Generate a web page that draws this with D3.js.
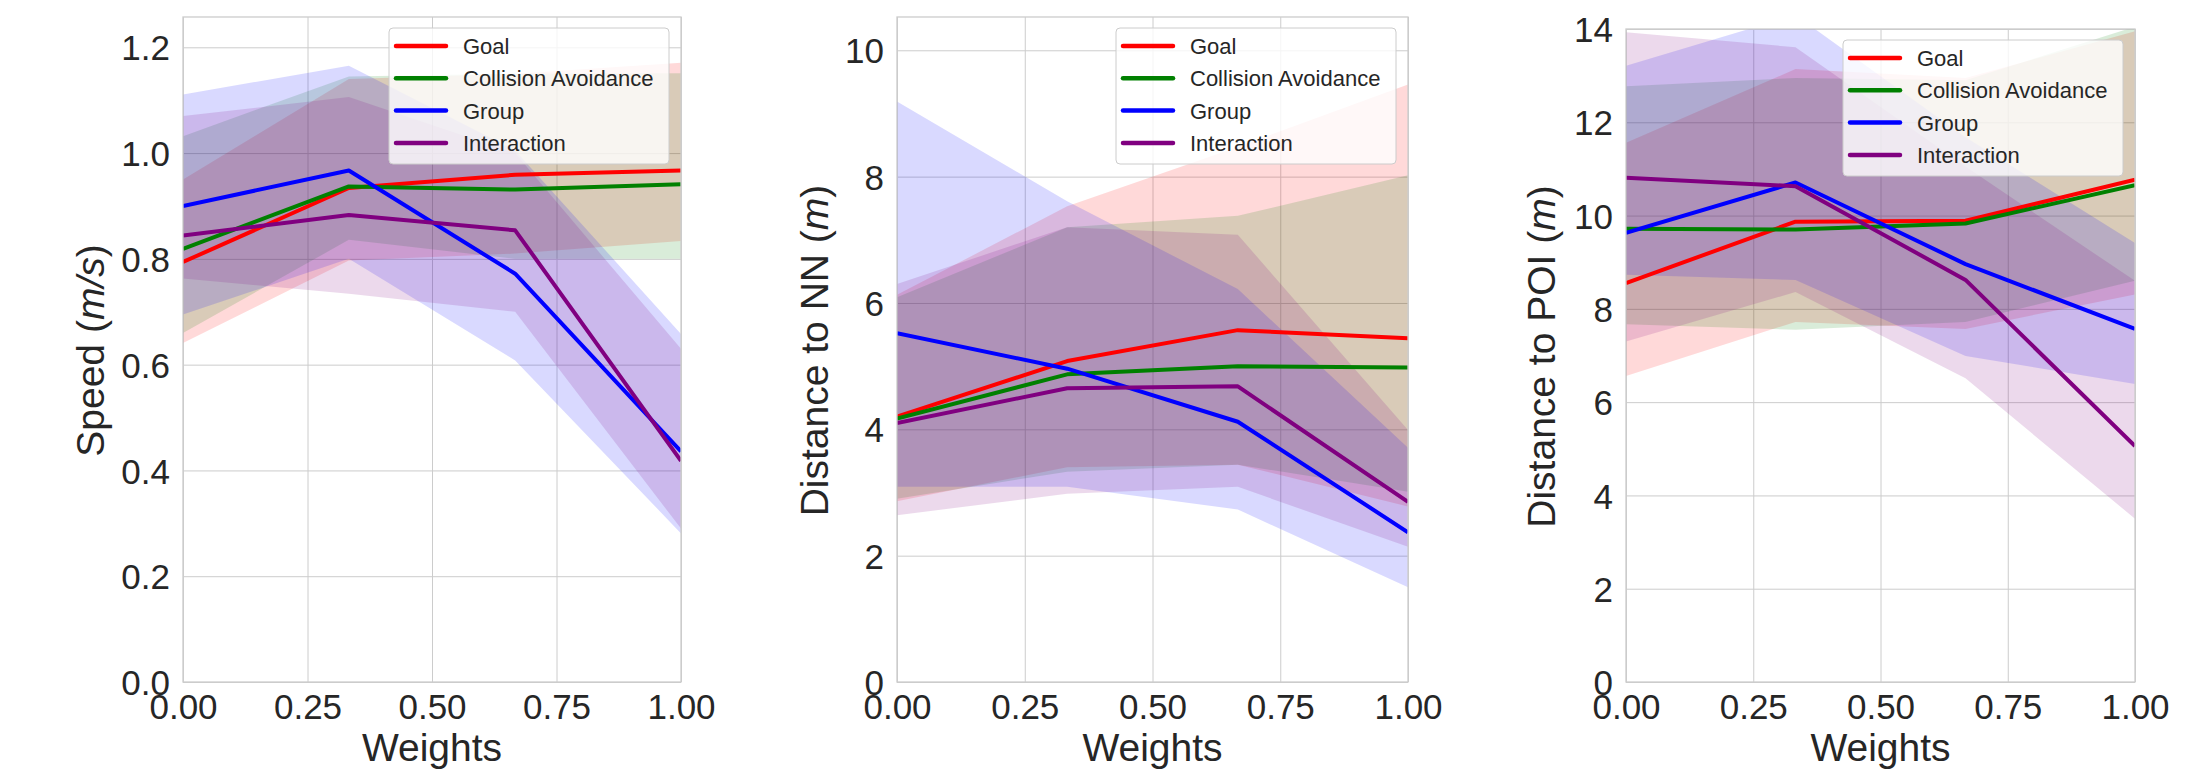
<!DOCTYPE html>
<html>
<head>
<meta charset="utf-8">
<script src="https://cdn.jsdelivr.net/npm/d3@7"></script>
<style>
  html, body { margin: 0; padding: 0; background: #ffffff; }
  svg { display: block; }
  text { font-family: "Liberation Sans", Arial, Helvetica, sans-serif; fill: #262626; }
</style>
</head>
<body>
<svg id="chart" width="2193" height="771"></svg>
<script>
// ---------------- DATA ----------------
const weights = [0, 0.333, 0.667, 1];
const seriesNames = ["Goal", "Collision Avoidance", "Group", "Interaction"];
const xTicks = [0, 0.25, 0.5, 0.75, 1.0];

// Speed (m/s): [Goal, Collision Avoidance, Group, Interaction]
const speedMean = [
  [0.794, 0.934, 0.959, 0.967],
  [0.819, 0.937, 0.931, 0.941],
  [0.900, 0.967, 0.772, 0.436],
  [0.844, 0.883, 0.854, 0.418]
];
const speedLow = [
  [0.641, 0.797, 0.810, 0.834],
  [0.660, 0.836, 0.800, 0.800],
  [0.695, 0.800, 0.608, 0.281],
  [0.763, 0.734, 0.700, 0.290]
];
const speedHigh = [
  [0.950, 1.140, 1.150, 1.171],
  [1.032, 1.145, 1.150, 1.151],
  [1.111, 1.165, 1.005, 0.658],
  [1.070, 1.106, 1.000, 0.630]
];
const speedTicks = [0.0, 0.2, 0.4, 0.6, 0.8, 1.0, 1.2];

// Distance to NN (m)
const nnMean = [
  [4.20, 5.08, 5.57, 5.44],
  [4.17, 4.87, 5.00, 4.98],
  [5.52, 4.96, 4.12, 2.37],
  [4.10, 4.65, 4.68, 2.85]
];
const nnLow = [
  [2.86, 3.40, 3.44, 2.78],
  [2.90, 3.33, 3.44, 3.01],
  [3.09, 3.09, 2.73, 1.50],
  [2.64, 2.98, 3.09, 2.14]
];
const nnHigh = [
  [6.13, 7.53, 8.47, 9.46],
  [6.09, 7.20, 7.38, 8.02],
  [9.19, 7.61, 6.22, 3.71],
  [6.30, 7.20, 7.08, 3.99]
];
const nnTicks = [0, 2, 4, 6, 8, 10];

// Distance to POI (m)
const poiMean = [
  [8.55, 9.87, 9.89, 10.77],
  [9.72, 9.70, 9.83, 10.65],
  [9.63, 10.71, 8.96, 7.57],
  [10.81, 10.63, 8.62, 5.06]
];
const poiLow = [
  [6.56, 7.72, 7.57, 8.31],
  [7.67, 7.55, 7.72, 8.60],
  [8.73, 8.62, 6.99, 6.39],
  [7.30, 8.36, 6.51, 3.50]
];
const poiHigh = [
  [11.56, 13.14, 12.95, 13.95],
  [12.77, 12.95, 12.90, 14.05],
  [13.21, 14.30, 11.68, 9.41],
  [13.93, 13.61, 11.05, 8.60]
];
const poiTicks = [0, 2, 4, 6, 8, 10, 12, 14];

// ---------------- STYLE / LAYOUT ----------------
const colors = ["#ff0000", "#008000", "#0000ff", "#800080"];

const panels = [
  { mean: speedMean, low: speedLow, high: speedHigh, ticks: speedTicks, fmt: d3.format(".1f"),
    ymax: 1.2573, left: 183, right: 681, top: 17, bottom: 682, labelX: 104,
    label: ["Speed (", "m/s", ")"] },
  { mean: nnMean, low: nnLow, high: nnHigh, ticks: nnTicks, fmt: d3.format("d"),
    ymax: 10.527, left: 897, right: 1408, top: 17, bottom: 682, labelX: 828,
    label: ["Distance to NN (", "m", ")"] },
  { mean: poiMean, low: poiLow, high: poiHigh, ticks: poiTicks, fmt: d3.format("d"),
    ymax: 14, left: 1626, right: 2135, top: 29, bottom: 682, labelX: 1555,
    label: ["Distance to POI (", "m", ")"] }
];

const svg = d3.select("#chart");
const gridColor = "#cccccc";

panels.forEach((p, pi) => {
  const x = d3.scaleLinear().domain([0, 1]).range([p.left, p.right]);
  const y = d3.scaleLinear().domain([0, p.ymax]).range([p.bottom, p.top]);
  const g = svg.append("g");

  const clipId = "clip" + pi;
  svg.append("defs").append("clipPath").attr("id", clipId)
    .append("rect").attr("x", p.left).attr("y", p.top)
    .attr("width", p.right - p.left).attr("height", p.bottom - p.top);

  // grid
  const yAxis = d3.axisLeft(y).tickValues(p.ticks).tickSize(-(p.right - p.left)).tickFormat(p.fmt).tickPadding(13);
  const xAxis = d3.axisBottom(x).tickValues(xTicks).tickSize(-(p.bottom - p.top)).tickFormat(d3.format(".2f")).tickPadding(12);

  const gy = g.append("g").attr("transform", `translate(${p.left},0)`).call(yAxis);
  gy.select(".domain").remove();
  gy.selectAll(".tick line").attr("stroke", gridColor).attr("stroke-width", 1);
  gy.selectAll(".tick text").attr("font-size", 35).attr("fill", "#262626")
    .attr("dy", "0.36em");

  const gx = g.append("g").attr("transform", `translate(0,${p.bottom})`).call(xAxis);
  gx.select(".domain").remove();
  gx.selectAll(".tick line").attr("stroke", gridColor).attr("stroke-width", 1);
  gx.selectAll(".tick text").attr("font-size", 35).attr("fill", "#262626")
    .attr("y", 37).attr("dy", 0);

  // bands
  const area = d3.area().x((d, i) => x(weights[i])).y0(d => y(d[0])).y1(d => y(d[1]));
  const gb = g.append("g").attr("clip-path", `url(#${clipId})`);
  seriesNames.forEach((name, si) => {
    const pts = weights.map((w, i) => [p.low[si][i], p.high[si][i]]);
    gb.append("path").datum(pts).attr("d", area)
      .attr("fill", colors[si]).attr("fill-opacity", 0.15).attr("stroke", "none");
  });

  // lines
  const line = d3.line().x((d, i) => x(weights[i])).y(d => y(d));
  seriesNames.forEach((name, si) => {
    gb.append("path").datum(p.mean[si]).attr("d", line)
      .attr("fill", "none").attr("stroke", colors[si]).attr("stroke-width", 4)
      .attr("stroke-linejoin", "round").attr("stroke-linecap", "butt");
  });

  // frame
  g.append("rect").attr("x", p.left).attr("y", p.top)
    .attr("width", p.right - p.left).attr("height", p.bottom - p.top)
    .attr("fill", "none").attr("stroke", gridColor).attr("stroke-width", 1.3);

  // axis labels
  g.append("text").attr("x", (p.left + p.right) / 2).attr("y", 761)
    .attr("text-anchor", "middle").attr("font-size", 39).text("Weights");

  const cy = (p.top + p.bottom) / 2 + 1;
  const yl = g.append("text").attr("transform", `translate(${p.labelX},${cy}) rotate(-90)`)
    .attr("text-anchor", "middle").attr("font-size", 39);
  yl.append("tspan").text(p.label[0]);
  yl.append("tspan").attr("font-style", "italic").text(p.label[1]);
  yl.append("tspan").text(p.label[2]);

  // legend
  const lw = 280, lh = 136;
  const lx = p.right - 12 - lw, ly = p.top + 11;
  const lg = g.append("g");
  lg.append("rect").attr("x", lx).attr("y", ly).attr("width", lw).attr("height", lh)
    .attr("rx", 4).attr("ry", 4)
    .attr("fill", "#ffffff").attr("fill-opacity", 0.8)
    .attr("stroke", gridColor).attr("stroke-width", 1);
  seriesNames.forEach((name, si) => {
    const ry = ly + 18 + si * 32.3;
    lg.append("line").attr("x1", lx + 7).attr("x2", lx + 57).attr("y1", ry).attr("y2", ry)
      .attr("stroke", colors[si]).attr("stroke-width", 4.5).attr("stroke-linecap", "round");
    lg.append("text").attr("x", lx + 74).attr("y", ry + 8).attr("font-size", 22).text(name);
  });
});
</script>
</body>
</html>
